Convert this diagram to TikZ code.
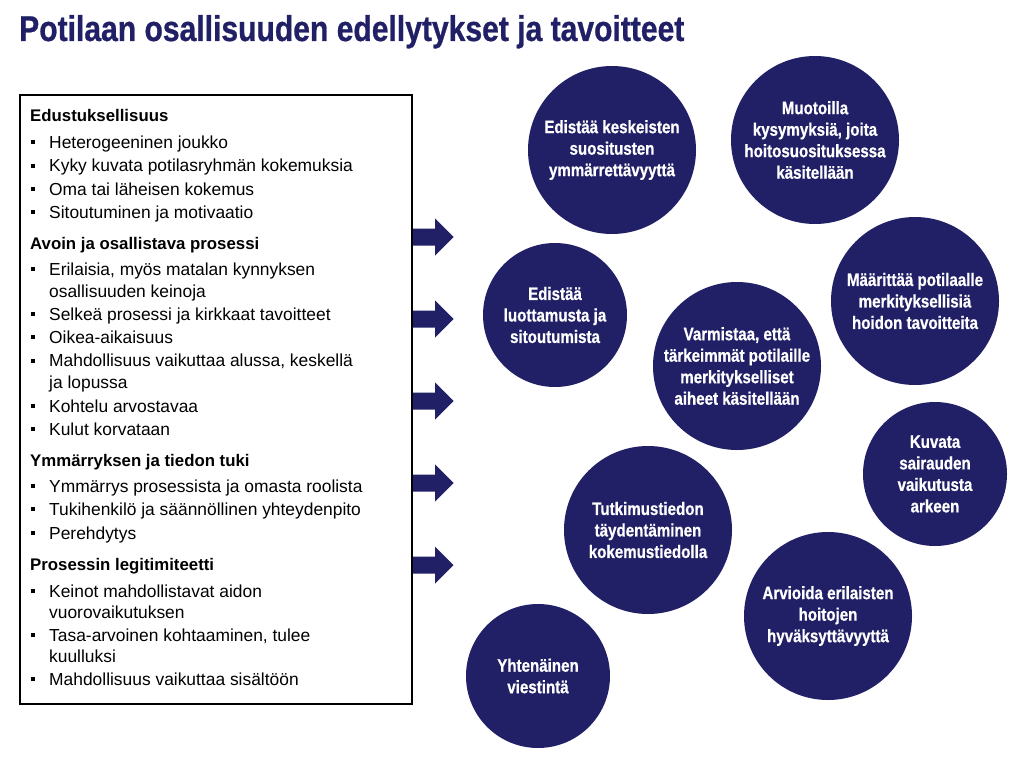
\documentclass[tikz,border=0pt]{standalone}
\usepackage{fontspec}
\setmainfont{Liberation Sans}
\newfontfamily\condfont[FakeStretch=0.84,BoldFeatures={FakeBold=0.7}]{Liberation Sans}
\definecolor{plnavy}{RGB}{33,32,102}
\begin{document}
\begin{tikzpicture}[x=1pt,y=-1pt,
  txt/.style={anchor=base west,inner sep=0pt,font=\fontsize{17.4}{20}\selectfont},
  head/.style={anchor=base west,inner sep=0pt,font=\bfseries\fontsize{16.8}{20}\selectfont},
  bigc/.style={circle,fill=plnavy,minimum size=168pt,inner sep=0pt,text=white,align=center,
    font=\condfont\bfseries\fontsize{18}{21.5}\selectfont},
  smallc/.style={bigc,minimum size=144pt},
  blockarrow/.style={fill=plnavy}]
\fill[white] (0,0) rectangle (1024,760);
\useasboundingbox (0,0) rectangle (1024,760);

% title
\node[anchor=base west,inner sep=0pt,text=plnavy,font=\condfont\bfseries\fontsize{35.8}{40}\selectfont]
  (title) at (19,41) {Potilaan osallisuuden edellytykset ja tavoitteet};

% block arrows
\foreach \y in {237,319,401,483,565}{
  \fill[blockarrow] (412,\y-8.5) -- (435,\y-8.5) -- (435,\y-18.5) -- (453.5,\y)
    -- (435,\y+18.5) -- (435,\y+8.5) -- (412,\y+8.5) -- cycle;
}

% box
\node[draw=black,line width=2pt,inner sep=0pt,minimum width=392pt,minimum height=609pt]
  (box) at (216,399.5) {};

% headings
\node[head] (h1) at (30,121.7) {Edustuksellisuus};
\node[head] (h2) at (30,249) {Avoin ja osallistava prosessi};
\node[head] (h3) at (30,466) {Ymmärryksen ja tiedon tuki};
\node[head] (h4) at (30,570) {Prosessin legitimiteetti};

% bulleted items
\foreach \y/\t [count=\k] in {
  148/{Heterogeeninen joukko},
  171.5/{Kyky kuvata potilasryhmän kokemuksia},
  195/{Oma tai läheisen kokemus},
  218/{Sitoutuminen ja motivaatio},
  275/{Erilaisia, myös matalan kynnyksen},
  320/{Selkeä prosessi ja kirkkaat tavoitteet},
  343/{Oikea-aikaisuus},
  366.5/{Mahdollisuus vaikuttaa alussa, keskellä},
  412/{Kohtelu arvostavaa},
  435/{Kulut korvataan},
  492/{Ymmärrys prosessista ja omasta roolista},
  515/{Tukihenkilö ja säännöllinen yhteydenpito},
  539/{Perehdytys},
  597/{Keinot mahdollistavat aidon},
  641/{Tasa-arvoinen kohtaaminen, tulee},
  685/{Mahdollisuus vaikuttaa sisältöön}}{
  \node[txt] (item\k) at (49,\y) {\t};
  \fill (31,\y-7.8) rectangle (35,\y-3.8);
}
\foreach \y/\t [count=\k] in {
  297/{osallisuuden keinoja},
  388.5/{ja lopussa},
  618.5/{vuorovaikutuksen},
  662.5/{kuulluksi}}{
  \node[txt] (cont\k) at (49,\y) {\t};
}

% circles
\node[bigc] (c1) at (612,150) {Edistää keskeisten\\suositusten\\ymmärrettävyyttä};
\node[bigc] (c2) at (815,140) {Muotoilla\\kysymyksiä, joita\\hoitosuosituksessa\\käsitellään};
\node[bigc] (c3) at (915,301) {Määrittää potilaalle\\merkityksellisiä\\hoidon tavoitteita};
\node[smallc] (c4) at (555,315) {Edistää\\luottamusta ja\\sitoutumista};
\node[bigc] (c5) at (737,366) {Varmistaa, että\\tärkeimmät potilaille\\merkitykselliset\\aiheet käsitellään};
\node[smallc] (c6) at (935,474) {Kuvata\\sairauden\\vaikutusta\\arkeen};
\node[bigc] (c7) at (648,530) {Tutkimustiedon\\täydentäminen\\kokemustiedolla};
\node[bigc] (c8) at (828,616) {Arvioida erilaisten\\hoitojen\\hyväksyttävyyttä};
\node[smallc] (c9) at (538,676) {Yhtenäinen\\viestintä};
\end{tikzpicture}
\end{document}
